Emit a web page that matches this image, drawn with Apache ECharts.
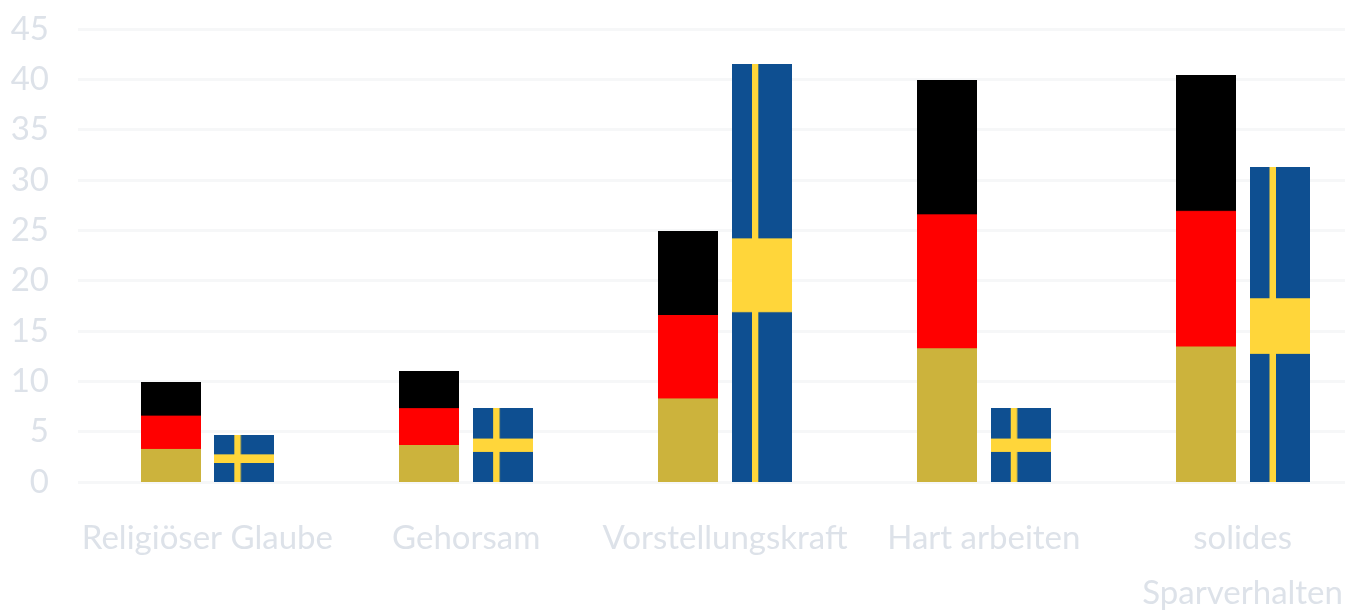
<!DOCTYPE html>
<html><head><meta charset="utf-8">
<style>html,body{margin:0;padding:0;background:#fff;overflow:hidden}#c{width:1368px;height:613px;filter:blur(0.6px)}</style>
<script src="https://cdn.jsdelivr.net/npm/echarts@6/dist/echarts.min.js"></script>
</head><body><div id="c"></div>
<script>
const categories = ['Religiöser Glaube','Gehorsam','Vorstellungskraft','Hart arbeiten','solides\nSparverhalten'];
const deutschland = [9.9,11,24.9,39.9,40.4];
const schweden = [4.7,7.4,41.5,7.4,31.3];
const yTicks = [0,5,10,15,20,25,30,35,40,45];

function flagImage(draw){
  const cv=document.createElement('canvas');cv.width=120;cv.height=300;
  draw(cv.getContext('2d'));
  return 'image://'+cv.toDataURL();
}
const germanFlag=flagImage(g=>{
  g.fillStyle='#000';g.fillRect(0,0,120,100);
  g.fillStyle='#ff0000';g.fillRect(0,100,120,100);
  g.fillStyle='#ccb33c';g.fillRect(0,200,120,100);
});
const swedishFlag=flagImage(g=>{
  g.fillStyle='#0e4f91';g.fillRect(0,0,120,300);
  g.fillStyle='#ffd63a';g.fillRect(40,0,13,300);g.fillRect(0,125,120,53);
});
const textColor='#dde2e9';
const font='Lato';
const chart=echarts.init(document.getElementById('c'),null,{renderer:'canvas'});
const yBase={type:'value',min:0,max:45,interval:5};
chart.setOption({
  animation:false,
  backgroundColor:'#fff',
  grid:[
    {left:78,top:29,width:1267,height:453,outerBoundsMode:'none'},
    {left:78,top:29,width:1294,height:453,outerBoundsMode:'none'}
  ],
  xAxis:[
    {type:'category',gridIndex:0,data:categories,show:false},
    {type:'category',gridIndex:1,data:categories,
     axisLine:{show:false},axisTick:{show:false},
     axisLabel:{interval:0,color:textColor,fontFamily:font,fontSize:33,lineHeight:55,margin:29,hideOverlap:false}}
  ],
  yAxis:[
    Object.assign({},yBase,{gridIndex:0,axisLine:{show:false},axisTick:{show:false},
      axisLabel:{color:textColor,fontFamily:font,fontSize:33,margin:29,formatter:v=>yTicks.includes(v)?String(v):''},
      splitLine:{show:true,lineStyle:{color:'#f6f7f8',width:3}}}),
    Object.assign({},yBase,{gridIndex:1,show:false})
  ],
  series:[
    {name:'Deutschland',type:'pictorialBar',xAxisIndex:1,yAxisIndex:1,data:deutschland,
     symbol:germanFlag,symbolRepeat:false,symbolSize:[60,'100%'],symbolPosition:'start',barWidth:60,barGap:'23%'},
    {name:'Schweden',type:'pictorialBar',xAxisIndex:1,yAxisIndex:1,data:schweden,
     symbol:swedishFlag,symbolRepeat:false,symbolSize:[60,'100%'],symbolPosition:'start',barWidth:60,barGap:'23%'}
  ]
});
</script></body></html>
